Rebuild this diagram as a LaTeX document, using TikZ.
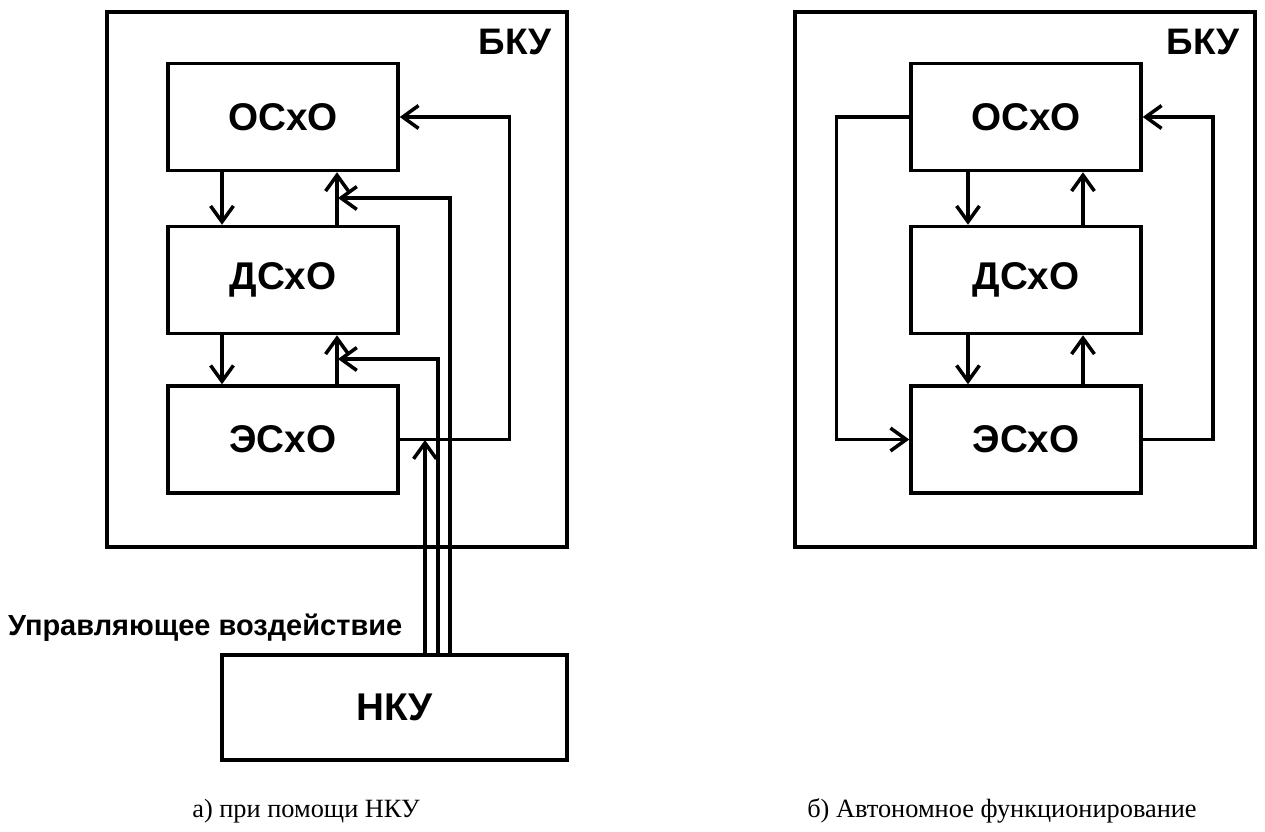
\documentclass[tikz,border=0pt]{standalone}
\usepackage{fontspec}
\setmainfont{Liberation Serif}
\setsansfont{Liberation Sans}
\usetikzlibrary{arrows.meta,calc}

\begin{document}
\begin{tikzpicture}[x=0.02cm, y=-0.02cm, line width=2pt,
  >={Straight Barb[length=9pt,width=13pt]},
  blk/.style={draw, minimum width=4.6cm, minimum height=2.14cm, inner sep=0pt, font=\sffamily\bfseries\fontsize{22}{26}\selectfont},
  frame/.style={draw, minimum width=9.2cm, minimum height=10.7cm, inner sep=0pt},
  tag/.style={font=\sffamily\bfseries\fontsize{21}{25}\selectfont},
  subcap/.style={font=\fontsize{15}{18}\selectfont}]
\useasboundingbox (0,0) rectangle (1265,832);
% left: with NKU
\node[frame] (bkuA) at (337,279.5) {};
\node[tag] (tbkuA) at (515,42) {БКУ};
\node[blk] (osA) at (283,117) {ОСхО};
\node[blk] (dsA) at (283,280) {ДСхО};
\node[blk] (esA) at (283,439.5) {ЭСхО};
\node[draw, minimum width=6.9cm, minimum height=2.1cm, inner sep=0pt, font=\sffamily\bfseries\fontsize{22}{26}\selectfont] (nkuA) at (394.5,707.5) {НКУ};
\node[anchor=base east, inner sep=0pt, font=\sffamily\bfseries\fontsize{16.5}{20}\selectfont] (ctl) at (404,635) {Управляющее воздействие};
\coordinate (dnA) at (222,0);
\coordinate (upA) at (337,0);
\coordinate (cA1) at (450,0);
\coordinate (cA2) at (438,0);
\coordinate (cA3) at (425,0);
\coordinate (hA1) at (338,198);
\coordinate (hA2) at (338,359);
\coordinate (hA3) at (425,440);
\draw[->] (osA.south -| dnA) -- (dsA.north -| dnA);
\draw[->] (dsA.south -| dnA) -- (esA.north -| dnA);
\draw[->] (dsA.north -| upA) -- (osA.south -| upA);
\draw[->] (esA.north -| upA) -- (dsA.south -| upA);
\draw[->] (esA.east) -- ++(110,0) |- (osA.east);
\draw[->] (nkuA.north -| cA1) |- (hA1);
\draw[->] (nkuA.north -| cA2) |- (hA2);
\draw[->] (nkuA.north -| cA3) -- (hA3);
\node[subcap] (capA) at (306,811) {а) при помощи НКУ};
% right: autonomous
\node[frame] (bkuB) at (1025,279.5) {};
\node[tag] (tbkuB) at (1203,42) {БКУ};
\node[blk] (osB) at (1026,117) {ОСхО};
\node[blk] (dsB) at (1026,280) {ДСхО};
\node[blk] (esB) at (1026,439.5) {ЭСхО};
\coordinate (dnB) at (968,0);
\coordinate (upB) at (1083,0);
\draw[->] (osB.south -| dnB) -- (dsB.north -| dnB);
\draw[->] (dsB.south -| dnB) -- (esB.north -| dnB);
\draw[->] (dsB.north -| upB) -- (osB.south -| upB);
\draw[->] (esB.north -| upB) -- (dsB.south -| upB);
\draw[->] (osB.west) -- ++(-73,0) |- (esB.west);
\draw[->] (esB.east) -- ++(70,0) |- (osB.east);
\node[subcap] (capB) at (1002,811) {б) Автономное функционирование};
\end{tikzpicture}
\end{document}
